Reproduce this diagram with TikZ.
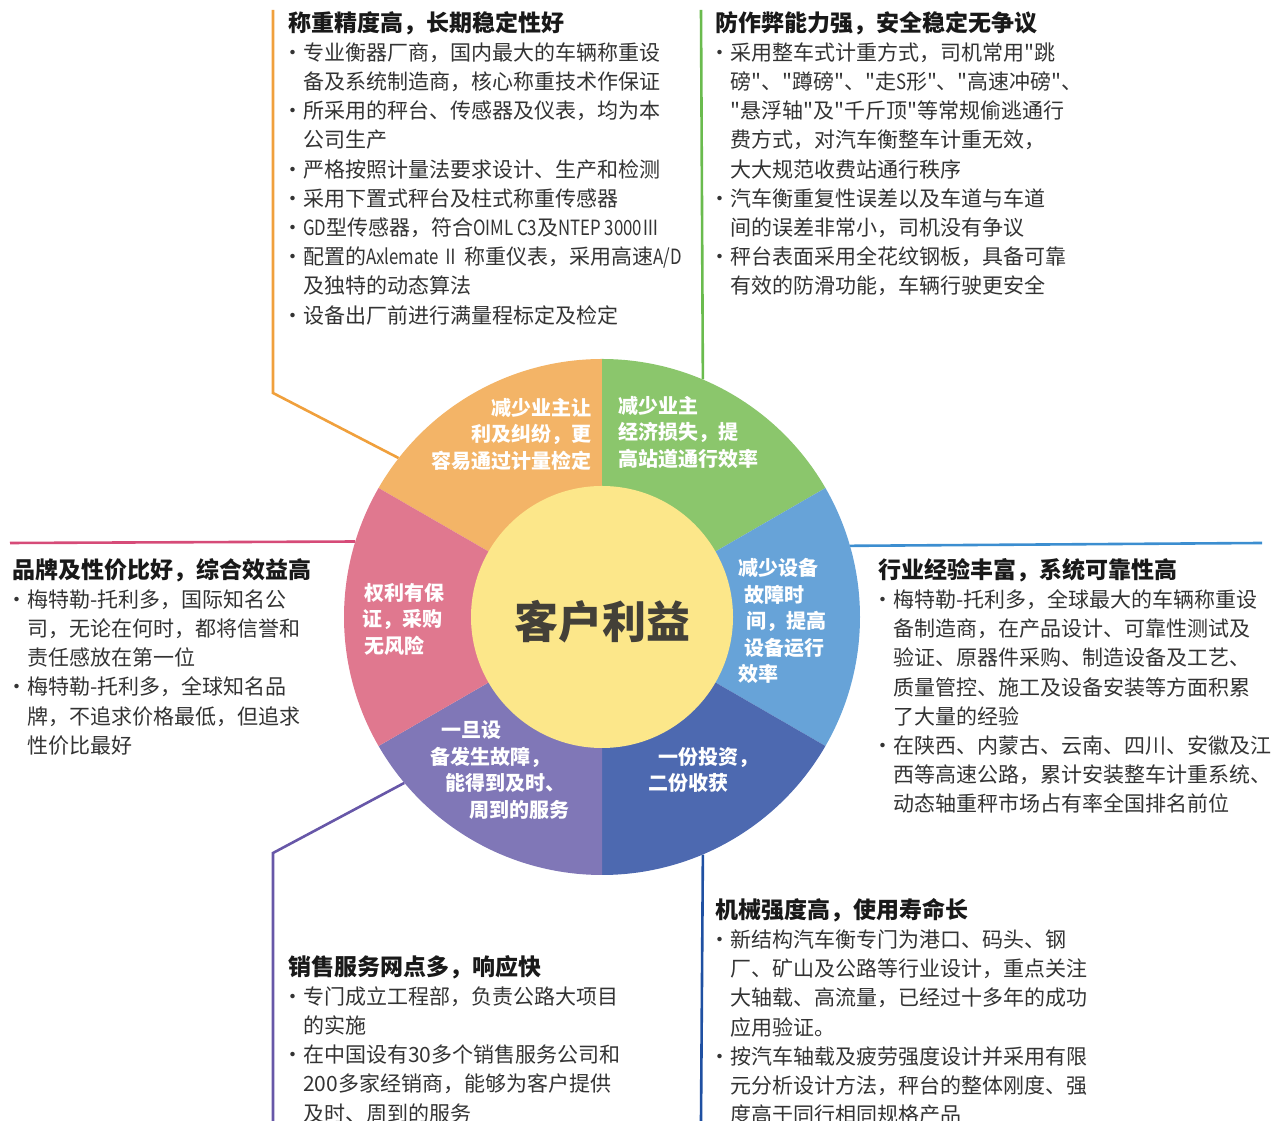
\documentclass[tikz,border=0pt]{standalone}
\usepackage{fontspec}
\newfontfamily\cjk{Noto Sans CJK SC}

\definecolor{segOrange}{HTML}{F3B467}
\definecolor{segGreen}{HTML}{8BC66C}
\definecolor{segBlue}{HTML}{67A3D8}
\definecolor{segNavy}{HTML}{4D69B0}
\definecolor{segPurple}{HTML}{8077B7}
\definecolor{segPink}{HTML}{E0788F}
\definecolor{coreYellow}{HTML}{FCE78A}
\definecolor{lnOrange}{HTML}{F0A03C}
\definecolor{lnGreen}{HTML}{6ABB4E}
\definecolor{lnPink}{HTML}{D64B78}
\definecolor{lnBlue}{HTML}{3C8ED0}
\definecolor{lnPurple}{HTML}{6757A8}
\definecolor{lnNavy}{HTML}{1F50A2}
\definecolor{txtGray}{HTML}{333333}

\newcommand\hd[1]{{\bfseries\fontsize{23}{29.2}\selectfont\color{black!90}#1}}
\newcommand\bul{\makebox[15pt][l]{\hspace*{-6pt}•}}
\newcommand\ind{\hspace*{15pt}}
\newcommand\lat[1]{\scalebox{0.8}[1]{#1}}

\tikzset{
  block/.style={anchor=north west, inner sep=0pt, align=left, text=txtGray,
    font=\cjk\fontsize{21}{29.2}\selectfont},
  seglabel/.style={inner sep=0pt, text=white, font=\cjk\bfseries\fontsize{20}{26.5}\selectfont},
  link/.style={line width=2.6pt},
}

\begin{document}
\begin{tikzpicture}[x=1pt,y=1pt]
	\useasboundingbox (0,0) rectangle (1275,1121);
	\def \rOut {258pt};
	\def \rIn {131pt};
	\node[circle, minimum size=2*\rOut, inner sep=0pt] (wheel) at (602,504) {};

	% connectors
	\coordinate (oTop) at (273,1111);
	\coordinate (oBend) at (273,728);
	\coordinate (gTop) at (701,1111);
	\coordinate (pEnd) at (10,578);
	\coordinate (bEnd) at (1262,578);
	\coordinate (uBend) at (273,268);
	\coordinate (uBot) at (273,0);
	\coordinate (nBot) at (701,0);
	\draw[link,lnOrange] (oTop) -- (oBend) -- (wheel.142.4);
	\draw[link,lnGreen] (gTop) -- (wheel.67.4);
	\draw[link,lnPink] (pEnd) -- (wheel.163.3);
	\draw[link,lnBlue] (wheel.16.7) -- (bEnd);
	\draw[link,lnPurple] (wheel.220) -- (uBend) -- (uBot);
	\draw[link,lnNavy] (wheel.-67.4) -- (nBot);

	% wheel
	\foreach \a/\col in {90/segOrange,30/segGreen,-30/segBlue,-90/segNavy,-150/segPurple,150/segPink}
	\fill[\col] (wheel.center) -- ++(\a:\rOut) arc[start angle=\a, delta angle=60, radius=\rOut] -- cycle;
	\node[circle, fill=coreYellow, minimum size=2*\rIn, inner sep=0pt] (core) at (wheel.center) {};
	\node[font=\cjk\bfseries\fontsize{44}{50}\selectfont, text=black!85!yellow] (title) at ([yshift=-5pt]core.center) {客户利益};

	\node[seglabel, anchor=east, align=right] (sOrange) at (592,687) {减少业主让\\利及纠纷，更\\容易通过计量检定};
	\node[seglabel, anchor=west, align=left] (sGreen) at (618,689) {减少业主\\经济损失，提\\高站道通行效率};
	\node[seglabel, anchor=west, align=left] (sBlue) at (738,500) {减少设备\\\hspace*{6pt}故障时\\\hspace*{8pt}间，提高\\\hspace*{6pt}设备运行\\效率};
	\node[seglabel, anchor=west, align=left] (sNavy) at (648,351) {\hspace*{10pt}一份投资，\\二份收获};
	\node[seglabel, anchor=west, align=left] (sPurple) at (430,351) {\hspace*{11pt}一旦设\\备发生故障，\\\hspace*{15pt}能得到及时、\\\hspace*{39pt}周到的服务};
	\node[seglabel, anchor=west, align=left] (sPink) at (362,502) {\hspace*{2pt}权利有保\\证，采购\\\hspace*{2pt}无风险};

	% text blocks
	\node[block] (bkOrange) at (288,1110) {\hd{称重精度高，长期稳定性好}\\
		\bul 专业衡器厂商，国内最大的车辆称重设\\
		\ind 备及系统制造商，核心称重技术作保证\\
		\bul 所采用的秤台、传感器及仪表，均为本\\
		\ind 公司生产\\
		\bul 严格按照计量法要求设计、生产和检测\\
		\bul 采用下置式秤台及柱式称重传感器\\
		\bul \lat{GD}型传感器，符合\lat{OIML C3}及\lat{NTEP 3000Ⅲ}\\
		\bul 配置的\lat{Axlemate Ⅱ} 称重仪表，采用高速\lat{A/D}\\
		\ind 及独特的动态算法\\
		\bul 设备出厂前进行满量程标定及检定};
	\node[block] (bkGreen) at (715,1110) {\hd{防作弊能力强，安全稳定无争议}\\
		\bul 采用整车式计重方式，司机常用"跳\\
		\ind 磅"、"蹲磅"、"走\lat{S}形"、"高速冲磅"、\\
		\ind "悬浮轴"及"千斤顶"等常规偷逃通行\\
		\ind 费方式，对汽车衡整车计重无效，\\
		\ind 大大规范收费站通行秩序\\
		\bul 汽车衡重复性误差以及车道与车道\\
		\ind 间的误差非常小，司机没有争议\\
		\bul 秤台表面采用全花纹钢板，具备可靠\\
		\ind 有效的防滑功能，车辆行驶更安全};
	\node[block] (bkPink) at (12,563) {\hd{品牌及性价比好，综合效益高}\\
		\bul 梅特勒-托利多，国际知名公\\
		\ind 司，无论在何时，都将信誉和\\
		\ind 责任感放在第一位\\
		\bul 梅特勒-托利多，全球知名品\\
		\ind 牌，不追求价格最低，但追求\\
		\ind 性价比最好};
	\node[block] (bkBlue) at (878,563) {\hd{行业经验丰富，系统可靠性高}\\
		\bul 梅特勒-托利多，全球最大的车辆称重设\\
		\ind 备制造商，在产品设计、可靠性测试及\\
		\ind 验证、原器件采购、制造设备及工艺、\\
		\ind 质量管控、施工及设备安装等方面积累\\
		\ind 了大量的经验\\
		\bul 在陕西、内蒙古、云南、四川、安徽及江\\
		\ind 西等高速公路，累计安装整车计重系统、\\
		\ind 动态轴重秤市场占有率全国排名前位};
	\node[block] (bkPurple) at (288,166) {\hd{销售服务网点多，响应快}\\
		\bul 专门成立工程部，负责公路大项目\\
		\ind 的实施\\
		\bul 在中国设有30多个销售服务公司和\\
		\ind 200多家经销商，能够为客户提供\\
		\ind 及时、周到的服务};
	\node[block] (bkNavy) at (715,223) {\hd{机械强度高，使用寿命长}\\
		\bul 新结构汽车衡专门为港口、码头、钢\\
		\ind 厂、矿山及公路等行业设计，重点关注\\
		\ind 大轴载、高流量，已经过十多年的成功\\
		\ind 应用验证。\\
		\bul 按汽车轴载及疲劳强度设计并采用有限\\
		\ind 元分析设计方法，秤台的整体刚度、强\\
		\ind 度高于同行相同规格产品};
\end{tikzpicture}
\end{document}
